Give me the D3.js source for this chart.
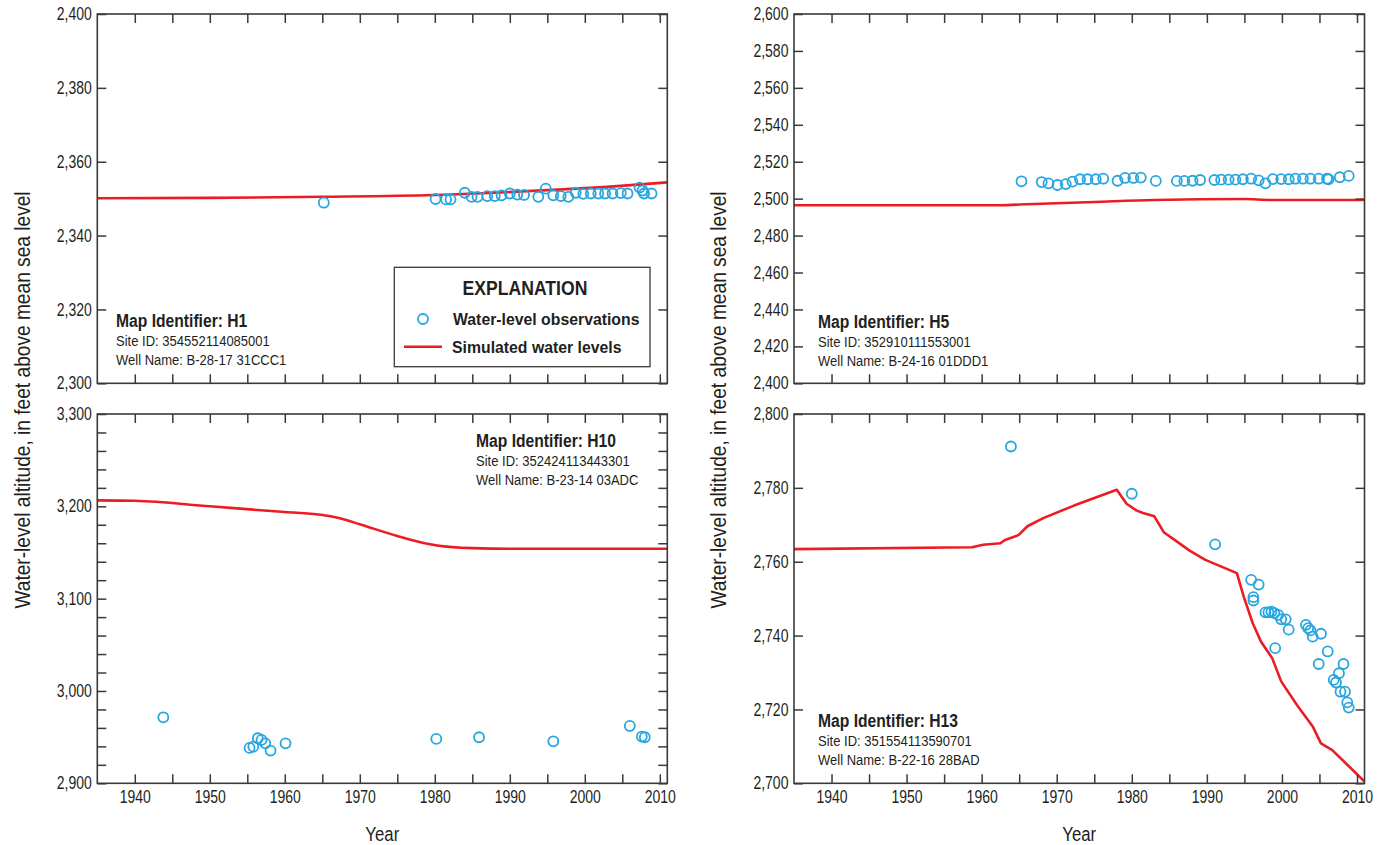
<!DOCTYPE html>
<html>
<head>
<meta charset="utf-8">
<script src="https://cdn.jsdelivr.net/npm/d3@7"></script>
<style>
  body { margin: 0; background: #fff; }
  svg text { fill: #231f20; font-family: "Liberation Sans", Arial, sans-serif; }
</style>
</head>
<body>
<svg id="chart" width="1389" height="845"></svg>
<script>
const svg = d3.select("#chart");

// H1 - top left
const h1SimYears = [1935, 1950, 1965, 1980, 1995, 2003, 2011];
const h1SimVals = [2350.1, 2350.2, 2350.5, 2351.0, 2352.3, 2353.2, 2354.4];
const h1ObsYears = [1965.2, 1980.1, 1981.5, 1982.1, 1984.0, 1984.9, 1985.7, 1987.0, 1988.0, 1988.9,
  1990.0, 1991.0, 1991.9, 1993.8, 1994.8, 1995.8, 1996.8, 1997.8, 1998.8, 1999.8,
  2000.8, 2001.8, 2002.7, 2003.7, 2004.8, 2005.7, 2007.3, 2007.7, 2007.9, 2008.9];
const h1ObsVals = [2348.9, 2349.9, 2349.8, 2349.8, 2351.6, 2350.5, 2350.5, 2350.7, 2350.7, 2350.9,
  2351.4, 2351.1, 2351.0, 2350.5, 2352.7, 2350.9, 2350.7, 2350.5, 2351.6, 2351.3,
  2351.4, 2351.4, 2351.4, 2351.4, 2351.5, 2351.4, 2353.0, 2352.2, 2351.4, 2351.4];

// H5 - top right
const h5SimYears = [1935, 1962, 1965, 1975, 1983, 1995, 1998.5, 2011];
const h5SimVals = [2496.4, 2496.4, 2496.8, 2498.2, 2499.3, 2499.8, 2499.3, 2499.3];
const h5ObsYears = [1965.3, 1968.0, 1968.9, 1970.1, 1971.2, 1972.1, 1973.1, 1974.1, 1975.2, 1976.2,
  1978.1, 1979.1, 1980.2, 1981.2, 1983.2, 1986.0, 1987.0, 1988.1, 1989.1, 1991.0,
  1991.9, 1992.9, 1993.8, 1994.8, 1995.9, 1996.9, 1997.8, 1998.8, 1999.9, 2000.9,
  2001.8, 2002.8, 2003.8, 2004.9, 2006.0, 2006.2, 2007.7, 2008.9];
const h5ObsVals = [2509.4, 2509.0, 2508.3, 2507.4, 2507.9, 2509.2, 2510.5, 2510.5, 2510.5, 2510.8,
  2509.7, 2511.2, 2511.2, 2511.4, 2509.6, 2509.6, 2509.6, 2509.7, 2510.1, 2510.1,
  2510.3, 2510.3, 2510.3, 2510.5, 2510.8, 2509.9, 2508.3, 2510.6, 2510.6, 2510.5,
  2510.8, 2510.8, 2510.8, 2510.8, 2510.8, 2510.5, 2511.6, 2512.3];

// H10 - bottom left
const h10SimYears = [1935, 1940, 1950, 1960, 1964.8, 1967.2, 1970.2, 1974.9, 1978.5, 1980.3, 1985, 1990, 2011];
const h10SimVals = [3206.4, 3206.0, 3200.0, 3193.8, 3190.9, 3187.3, 3180.0, 3168.1, 3160.2, 3157.6, 3154.7, 3154.0, 3154.0];
const h10ObsYears = [1943.8, 1955.3, 1955.8, 1956.4, 1956.9, 1957.4, 1958.1, 1960.1, 1980.2, 1985.9, 1995.8, 2006.0, 2007.6, 2008.0];
const h10ObsVals = [2971.5, 2938.3, 2939.7, 2948.8, 2947.0, 2943.3, 2935.4, 2943.3, 2948.1, 2949.9, 2945.5, 2962.1, 2950.6, 2949.9];

// H13 - bottom right
const h13SimYears = [1935, 1958.7, 1960.2, 1962.5, 1963.1, 1964.9, 1966.1, 1968.2, 1972.3, 1978.0, 1979.3,
  1980.6, 1981.5, 1983.0, 1984.3, 1985.7, 1987.7, 1989.8, 1994.0, 1994.9, 1996.1, 1997.2,
  1998.7, 1999.9, 2002.0, 2004.1, 2005.2, 2006.7, 2011];
const h13SimVals = [2763.4, 2763.9, 2764.6, 2765.0, 2765.9, 2767.2, 2769.6, 2771.8, 2775.2, 2779.5, 2775.7,
  2773.9, 2773.2, 2772.3, 2767.9, 2765.9, 2763.0, 2760.5, 2756.9, 2750.6, 2743.4, 2738.4,
  2733.9, 2727.6, 2721.2, 2715.4, 2710.8, 2709.0, 2700.5];
const h13ObsYears = [1963.9, 1980.0, 1991.1, 1995.9, 1996.9, 1996.2, 1996.2, 1997.8, 1998.2, 1998.6,
  1999.0, 1999.5, 1999.1, 1999.9, 2000.5, 2000.9, 2003.2, 2003.5, 2003.8, 2004.1,
  2005.2, 2004.9, 2006.1, 2006.9, 2007.2, 2007.6, 2007.8, 2008.4, 2008.2, 2008.7, 2008.9];
const h13ObsVals = [2791.2, 2778.4, 2764.7, 2755.1, 2753.8, 2750.4, 2749.5, 2746.3, 2746.3, 2746.5,
  2746.1, 2745.6, 2736.6, 2744.4, 2744.4, 2741.6, 2742.9, 2742.0, 2741.4, 2739.7,
  2740.5, 2732.3, 2735.7, 2728.0, 2727.3, 2729.8, 2724.8, 2724.8, 2732.3, 2721.9, 2720.5];

const yearMinor = d3.range(1940, 2011, 5);

const panels = [
  { x0: 97.3, x1: 667.3, y0: 14, y1: 383.3, dom: [2300, 2400], step: 20, labStep: 20, xLabels: false,
    simX: h1SimYears, simY: h1SimVals, obsX: h1ObsYears, obsY: h1ObsVals, curve: d3.curveMonotoneX,
    title: "Map Identifier: H1", site: "Site ID: 354552114085001", well: "Well Name: B-28-17 31CCC1", tx: 116, ty: 327 },
  { x0: 794, x1: 1364.5, y0: 14, y1: 383.3, dom: [2400, 2600], step: 20, labStep: 20, xLabels: false,
    simX: h5SimYears, simY: h5SimVals, obsX: h5ObsYears, obsY: h5ObsVals, curve: d3.curveMonotoneX,
    title: "Map Identifier: H5", site: "Site ID: 352910111553001", well: "Well Name: B-24-16 01DDD1", tx: 818, ty: 328 },
  { x0: 97.3, x1: 667.3, y0: 414, y1: 783.3, dom: [2900, 3300], step: 20, labStep: 100, xLabels: true,
    simX: h10SimYears, simY: h10SimVals, obsX: h10ObsYears, obsY: h10ObsVals, curve: d3.curveMonotoneX,
    title: "Map Identifier: H10", site: "Site ID: 352424113443301", well: "Well Name: B-23-14 03ADC", tx: 476, ty: 447 },
  { x0: 794, x1: 1364.5, y0: 414, y1: 783.3, dom: [2700, 2800], step: 20, labStep: 20, xLabels: true,
    simX: h13SimYears, simY: h13SimVals, obsX: h13ObsYears, obsY: h13ObsVals, curve: d3.curveLinear,
    title: "Map Identifier: H13", site: "Site ID: 351554113590701", well: "Well Name: B-22-16 28BAD", tx: 818, ty: 727 }
];

const axisColor = "#3a3a3a";
const red = "#ec1c24";
const blue = "#27a6df";

// text squeezed sideways to look like the condensed face of the original
function ctext(parent, x, y, str, size, sx, bold, anchor) {
  return parent.append("text")
    .attr("transform", "translate(" + x + "," + y + ") scale(" + sx + ",1)")
    .attr("text-anchor", anchor || "start")
    .style("font-size", size + "px")
    .style("font-weight", bold ? "bold" : "normal")
    .text(str);
}

panels.forEach(p => {
  const x = d3.scaleLinear().domain([1935, 2011]).range([p.x0, p.x1]);
  const y = d3.scaleLinear().domain(p.dom).range([p.y1, p.y0]);
  const yTicks = d3.range(p.dom[0], p.dom[1] + 0.1, p.step);
  const g = svg.append("g");

  const id = "clip" + Math.round(p.x0) + Math.round(p.y0);
  svg.append("clipPath").attr("id", id).append("rect")
    .attr("x", p.x0).attr("y", p.y0).attr("width", p.x1 - p.x0).attr("height", p.y1 - p.y0);

  // simulated line
  const simData = p.simX.map((d, i) => [d, p.simY[i]]);
  g.append("path")
    .datum(simData)
    .attr("clip-path", "url(#" + id + ")")
    .attr("fill", "none")
    .attr("stroke", red)
    .attr("stroke-width", 2.6)
    .attr("stroke-linejoin", "round")
    .attr("d", d3.line().x(d => x(d[0])).y(d => y(d[1])).curve(p.curve));

  // observations
  g.selectAll("circle.obs")
    .data(p.obsX.map((d, i) => [d, p.obsY[i]]))
    .enter().append("circle")
    .attr("class", "obs")
    .attr("cx", d => x(d[0]))
    .attr("cy", d => y(d[1]))
    .attr("r", 5)
    .attr("fill", "none")
    .attr("stroke", blue)
    .attr("stroke-width", 1.8);

  // axes, ticks pointing inward on all four sides
  const bottom = g.append("g").attr("transform", "translate(0," + p.y1 + ")")
    .call(d3.axisBottom(x).tickValues(yearMinor).tickSizeInner(-9).tickSizeOuter(0).tickPadding(7)
      .tickFormat(d => (p.xLabels && d % 10 === 0) ? d : ""));
  const top = g.append("g").attr("transform", "translate(0," + p.y0 + ")")
    .call(d3.axisTop(x).tickValues(yearMinor).tickSizeInner(-9).tickSizeOuter(0).tickFormat(""));
  const left = g.append("g").attr("transform", "translate(" + p.x0 + ",0)")
    .call(d3.axisLeft(y).tickValues(yTicks).tickSizeInner(-9).tickSizeOuter(0).tickPadding(7)
      .tickFormat(d => (d % p.labStep === 0) ? d3.format(",")(d) : ""));
  const right = g.append("g").attr("transform", "translate(" + p.x1 + ",0)")
    .call(d3.axisRight(y).tickValues(yTicks).tickSizeInner(-9).tickSizeOuter(0).tickFormat(""));

  [bottom, top, left, right].forEach(a => {
    a.select(".domain").remove();
    a.selectAll("line").attr("stroke", axisColor).attr("stroke-width", 1.5);
    a.selectAll("text")
      .attr("font-family", null)
      .attr("font-size", null)
      .style("font-size", "17.5px")
      .attr("fill", "#231f20")
      .attr("transform", "scale(0.8,1)");
  });

  g.append("rect")
    .attr("x", p.x0).attr("y", p.y0)
    .attr("width", p.x1 - p.x0).attr("height", p.y1 - p.y0)
    .attr("fill", "none").attr("stroke", axisColor).attr("stroke-width", 1.6);

  // identifier text
  ctext(g, p.tx, p.ty, p.title, 18, 0.87, true);
  ctext(g, p.tx, p.ty + 19, p.site, 15.5, 0.84, false);
  ctext(g, p.tx, p.ty + 38, p.well, 15.5, 0.84, false);

  if (p.xLabels) {
    ctext(g, (p.x0 + p.x1) / 2, 840.5, "Year", 19.5, 0.86, false, "middle");
  }
});

// y axis titles
[29.5, 726].forEach(bx => {
  svg.append("text")
    .attr("transform", "translate(" + bx + ",400) rotate(-90) scale(0.87,1)")
    .attr("text-anchor", "middle")
    .style("font-size", "22px")
    .text("Water-level altitude, in feet above mean sea level");
});

// legend
const lg = svg.append("g");
lg.append("rect").attr("x", 394.3).attr("y", 267.3).attr("width", 255.7).attr("height", 99.4)
  .attr("fill", "#fff").attr("stroke", axisColor).attr("stroke-width", 1.3);
ctext(lg, 525, 295, "EXPLANATION", 20, 0.88, true, "middle");
lg.append("circle").attr("cx", 423).attr("cy", 319).attr("r", 5)
  .attr("fill", "none").attr("stroke", blue).attr("stroke-width", 1.8);
ctext(lg, 453, 325, "Water-level observations", 17, 0.93, true);
lg.append("line").attr("x1", 404).attr("x2", 442).attr("y1", 346.7).attr("y2", 346.7)
  .attr("stroke", red).attr("stroke-width", 2.6);
ctext(lg, 452, 353, "Simulated water levels", 17, 0.93, true);
</script>
</body>
</html>
